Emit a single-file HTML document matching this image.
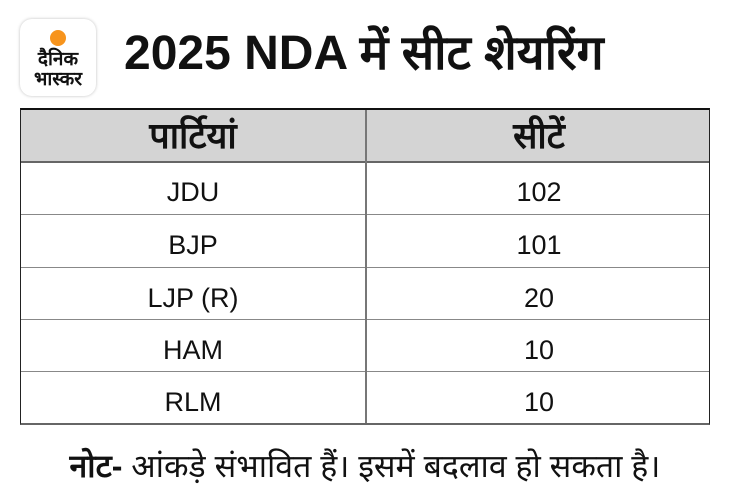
<!DOCTYPE html>
<html><head><meta charset="utf-8"><style>
html,body{margin:0;padding:0;background:#fff;}
body{width:730px;height:497px;position:relative;overflow:hidden;font-family:"Liberation Sans","DejaVu Sans",sans-serif;color:#111;}
.logo{position:absolute;left:20px;top:19px;width:76px;height:77px;border-radius:12px;background:#fff;box-shadow:0 0 3px rgba(0,0,0,.25);}
.dot{position:absolute;left:50px;top:30px;width:16px;height:16px;border-radius:50%;background:#f7941d;}
.lt{position:absolute;left:20px;width:76px;text-align:center;font-weight:bold;font-size:19px;line-height:20px;color:#111;}
.title{position:absolute;left:124px;top:28px;font-size:48px;font-weight:bold;line-height:52px;white-space:nowrap;}
.tbl{position:absolute;left:20px;top:108px;width:688px;height:313px;border:1px solid #222;border-top:2px solid #111;border-bottom:2px solid #666;}
.hd{position:absolute;left:0;top:0;width:688px;height:51px;background:#d4d4d4;border-bottom:2px solid #666;}
.vl{position:absolute;left:344px;top:0;width:2px;height:313px;background:#777;}
.rl{position:absolute;left:0;width:688px;height:1px;background:#888;}
.c{position:absolute;width:344px;text-align:center;font-size:27px;line-height:52px;}
.h{font-weight:bold;font-size:36px;}
.note{position:absolute;left:0;width:730px;top:446px;text-align:center;font-size:32px;line-height:40px;white-space:nowrap;}
</style></head><body>
<div class="logo"></div><div class="dot"></div>
<div class="lt" style="top:50px">दैनिक</div>
<div class="lt" style="top:70px">भास्कर</div>
<div class="title">2025 NDA में सीट शेयरिंग</div>
<div class="tbl">
<div class="hd"></div>
<div class="rl" style="top:104px"></div>
<div class="rl" style="top:157px"></div>
<div class="rl" style="top:209px"></div>
<div class="rl" style="top:261px"></div>
<div class="vl"></div>
<div class="c h" style="left:0;top:0">पार्टियां</div>
<div class="c h" style="left:346px;top:0">सीटें</div>
<div class="c" style="left:0;top:56px">JDU</div><div class="c" style="left:346px;top:56px">102</div>
<div class="c" style="left:0;top:109px">BJP</div><div class="c" style="left:346px;top:109px">101</div>
<div class="c" style="left:0;top:162px">LJP (R)</div><div class="c" style="left:346px;top:162px">20</div>
<div class="c" style="left:0;top:214px">HAM</div><div class="c" style="left:346px;top:214px">10</div>
<div class="c" style="left:0;top:266px">RLM</div><div class="c" style="left:346px;top:266px">10</div>
</div>
<div class="note"><b>नोट-</b> आंकड़े संभावित हैं। इसमें बदलाव हो सकता है।</div>
</body></html>
